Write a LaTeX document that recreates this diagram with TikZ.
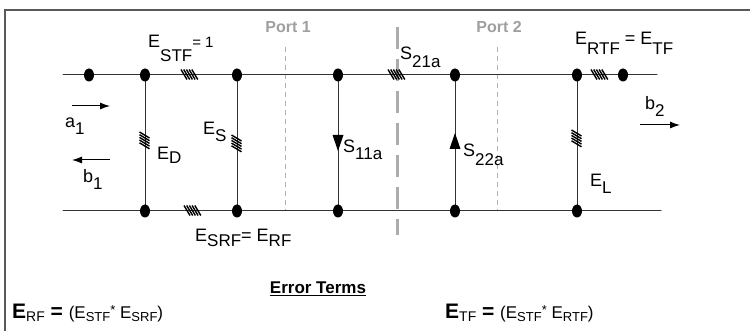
\documentclass[tikz,border=0pt]{standalone}
\usepackage{fontspec}
\setmainfont{Liberation Sans}
\usepackage{tkz-euclide}
\usetikzlibrary{arrows,arrows.meta,calc}

% letter with a lowered index, as on the chart
\newcommand\lsub[3][7pt]{#2\raisebox{-#1}{\fontsize{17}{19}\selectfont #3}}
% small index for the error term lines
\newcommand\fsub[2]{#1\raisebox{-3pt}{\fontsize{13}{15}\selectfont #2}}

\tikzset{
  lbl/.style={anchor=base west,inner sep=0pt,font=\fontsize{18}{20}\selectfont},
  portlbl/.style={anchor=base,inner sep=0pt,text=gray!75,font=\fontsize{16}{18}\selectfont\bfseries},
  portline/.style={draw=gray!60,line width=0.6pt,dash pattern=on 5pt off 4pt},
  refplane/.style={draw=gray!65,line width=3pt,dash pattern=on 22pt off 10pt},
  wave/.style={-{Latex[length=10pt,width=7pt]},line width=1pt},
  dot/.style={fill=black},
  hhatch/.pic={\foreach \i in {0,...,4} \draw[line width=1.4pt] (-10+2.7*\i,-5.5) -- ++(6,10);},
  vhatch/.pic={\foreach \i in {0,...,4} \draw[line width=1.4pt] (-5.5,-10+2.7*\i) -- ++(10,6);}
}

\begin{document}
\begin{tikzpicture}[x=1pt,y=-1pt]
\useasboundingbox (0,0) rectangle (750,331);
\tkzSetUpLine[line width=1pt,color=black!80]

% frame
\tkzDefPoints{5/331/FA,5/10/FB,750/10/FC}
\draw[black!65,line width=1.6pt] (FA) -- (FB) -- (FC);

% wires and junctions
\tkzDefPoints{63/75/L1,657/75/R1,63/211/L2,661/211/R2}
\tkzDefPoints{89/75/A1,145/75/D1,237/75/S1,338/75/M1,455/75/N1,577/75/E1,623/75/F1}
\tkzDefPoints{145/211/D2,237/211/S2,338/211/M2,455/211/N2,577/211/E2}

% port planes
\tkzDefPoints{285/47/P1a,285/211/P1b,497/47/P2a,497/211/P2b,397/27/Qa,397/235/Qb}
\draw[portline] (P1a) -- (P1b);
\draw[portline] (P2a) -- (P2b);
\draw[refplane] (Qa) -- (Qb);
\node[portlbl] (port1) at (288,33) {Port 1};
\node[portlbl] (port2) at (499,33) {Port 2};

\tkzDrawSegments(L1,R1 L2,R2 D1,D2 S1,S2 M1,M2 N1,N2 E1,E2)

\foreach \p in {A1,D1,S1,M1,N1,E1,F1,D2,S2,M2,N2,E2}
  \fill[dot] (\p) ellipse (5 and 6.5);

% error boxes
\tkzDefPoints{191/75/HSTF,398/75/HS21,601/75/HRTF,194/211/HSRF}
\tkzDefPoints{145/142/HD,237/145/HS,577/140/HL}
\foreach \h in {HSTF,HS21,HRTF,HSRF}
  \path (\h) pic {hhatch};
\foreach \h in {HD,HS,HL}
  \path (\h) pic {vhatch};

% S11a and S22a directions
\tkzDefPoints{338/143/AS11,455/141/AS22}
\fill ([shift={(-5.5,-8)}]AS11) -- ([shift={(5.5,-8)}]AS11) -- ([shift={(0,8)}]AS11) -- cycle;
\fill ([shift={(-5.5,8)}]AS22) -- ([shift={(5.5,8)}]AS22) -- ([shift={(0,-8)}]AS22) -- cycle;

% incident and reflected waves
\tkzDefPoints{72/106/WA,110/106/WB,110/160/WC,72/160/WD,640/125/WE,680/125/WF}
\draw[wave] (WA) -- (WB);
\draw[wave] (WC) -- (WD);
\draw[wave] (WE) -- (WF);

% labels
\node[lbl] (la1) at (65,128) {\lsub{a}{1}};
\node[lbl] (lb1) at (83,183) {\lsub{b}{1}};
\node[lbl] (lb2) at (645,110) {\lsub{b}{2}};
\node[lbl] (lstf) at (148,48) {\lsub[14pt]{E}{STF}\fontsize{15}{17}\selectfont= 1};
\node[lbl] (led) at (157,160) {\lsub[4pt]{E}{D}};
\node[lbl] (les) at (203,135) {\lsub{E}{S}};
\node[lbl] (ls11) at (343,153) {\lsub{S}{11a}};
\node[lbl] (ls21) at (400,60) {\lsub[8pt]{S}{21a}};
\node[lbl] (ls22) at (463,157) {\lsub[9pt]{S}{22a}};
\node[lbl] (lrtf) at (575,45) {\lsub[10pt]{E}{RTF} = \lsub[10pt]{E}{TF}};
\node[lbl] (lel) at (590,187) {\lsub{E}{L}};
\node[lbl] (lsrf) at (195,242) {\lsub[5pt]{E}{SRF}= \lsub[5pt]{E}{RF}};

% error terms
\node[anchor=base,inner sep=0pt,font=\fontsize{17}{19}\selectfont\bfseries] (terms) at (318,294) {\underline{Error Terms}};
\node[anchor=base west,inner sep=0pt] (erf) at (12,318)
  {{\fontsize{21}{23}\selectfont\bfseries E\raisebox{-3pt}{\fontsize{14}{16}\selectfont\mdseries RF} = }{\fontsize{17}{19}\selectfont (\fsub{E}{STF}\raisebox{4pt}{\fontsize{13}{15}\selectfont *} \fsub{E}{SRF})}};
\node[anchor=base west,inner sep=0pt] (etf) at (445,318)
  {{\fontsize{21}{23}\selectfont\bfseries E\raisebox{-3pt}{\fontsize{14}{16}\selectfont\mdseries TF} = }{\fontsize{17}{19}\selectfont (\fsub{E}{STF}\raisebox{4pt}{\fontsize{13}{15}\selectfont *} \fsub{E}{RTF})}};

\end{tikzpicture}
\end{document}
